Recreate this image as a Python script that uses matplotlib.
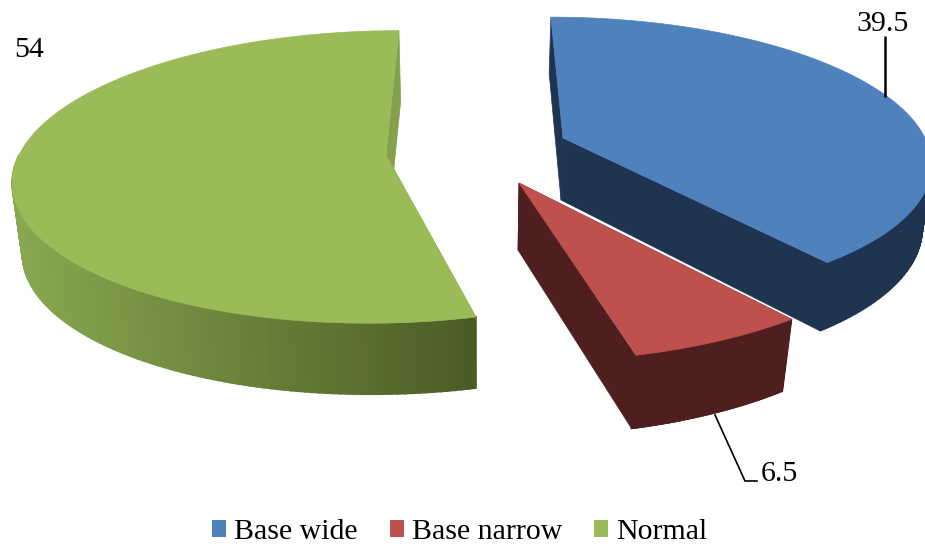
from matplotlib import pyplot as plt
from matplotlib.colors import to_rgb
from matplotlib.patches import Patch
import numpy as np

# Values
labels = ['Base wide', 'Base narrow', 'Normal']
values = [39.5, 6.5, 54]

# Colours of top faces and sides
top_colors = ['#4F81BD', '#BE504D', '#9BBB59']
side_left = ['#1F3450', '#4F1F1F', '#89A850']
side_right = ['#1F3450', '#4F1F1F', '#4A5C26']
inner_colors = ['#1F3450', '#4F1F1F', '#84A04C']

# Projection of each exploded slice in pixels: apex, radii, shear
apex_x = [563, 519, 386]
apex_y = [138, 183, 155]
rad_x = [362, 387, 367]
rad_y = [139, 152, 143]
shear = [0.1, 0.025, -0.104]
persp = 0.15

# Bottom surface of each slice: apex and scale against the top surface
low_x = [561, 518, 388]
low_y = [200, 250, 226]
low_sx = [0.98, 0.97, 0.978]
low_sy = [1.05, 1.035, 1.0]


def project(theta, i):
    w = 1 + persp * np.cos(theta)
    dy = -rad_y[i] * np.cos(theta) / w
    dx = rad_x[i] * np.sin(theta) / w + shear[i] * dy
    return dx, dy


fig = plt.figure(figsize=(9.25, 5.46), dpi=100)
ax = fig.add_axes([0, 0, 1, 1])
ax.set_xlim(0, 925)
ax.set_ylim(546, 0)
ax.axis('off')

# Slice angles come from the values, clockwise from the top
edges = np.cumsum([0] + values) / np.sum(values) * 2 * np.pi

for i in [2, 0, 1]:
    theta = np.linspace(edges[i], edges[i + 1], 200)
    dx, dy = project(theta, i)
    top_x = apex_x[i] + dx
    top_y = apex_y[i] + dy
    bot_x = low_x[i] + low_sx[i] * dx
    bot_y = low_y[i] + low_sy[i] * dy

    # Flat cut faces first
    for j in [0, -1]:
        ax.fill([apex_x[i], top_x[j], bot_x[j], low_x[i]],
                [apex_y[i], top_y[j], bot_y[j], low_y[i]],
                color=inner_colors[i], lw=0.5)

    # Outer rim as thin strips so that the shading can change with x,
    # the part at the back of the slice stays hidden
    c1 = np.array(to_rgb(side_left[i]))
    c2 = np.array(to_rgb(side_right[i]))
    for n in range(len(theta) - 1):
        if np.cos(theta[n]) > 0:
            continue
        t = np.clip((top_x[n] - 12) / (477 - 12), 0, 1)
        ax.fill([top_x[n], top_x[n + 1], bot_x[n + 1], bot_x[n]],
                [top_y[n], top_y[n + 1], bot_y[n + 1], bot_y[n]],
                color=c1 + (c2 - c1) * t, lw=1.2)

    # Top face
    ax.fill(np.r_[apex_x[i], top_x], np.r_[apex_y[i], top_y],
            color=top_colors[i], lw=0.5)

# Data labels and their leader lines
serif = 'Liberation Serif'
ax.plot([885, 885], [36, 97], color='black', lw=1.8, solid_capstyle='butt')
ax.plot([715, 745, 757], [415, 481, 481], color='black', lw=1.2)
ax.text(883, 24, f'{values[0]:g}', family=serif, fontsize=21.5, ha='center', va='center')
ax.text(779, 474, f'{values[1]:g}', family=serif, fontsize=21.5, ha='center', va='center')
ax.text(29.5, 50, f'{values[2]:g}', family=serif, fontsize=21.5, ha='center', va='center')

# Legend along the bottom
handles = [Patch(color=c, lw=0) for c in top_colors]
ax.legend(handles, labels, ncol=3, frameon=False, loc='center',
          bbox_to_anchor=(460, 532), bbox_transform=ax.transData,
          prop={'family': serif, 'size': 21.5},
          handlelength=0.47, handleheight=0.47, handletextpad=0.27,
          columnspacing=1.07, borderpad=0, borderaxespad=0)

fig.savefig('out.png', dpi=100)
